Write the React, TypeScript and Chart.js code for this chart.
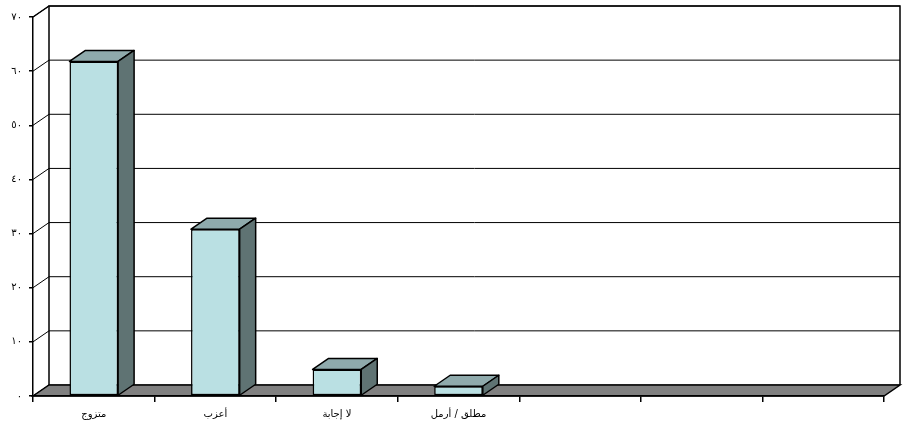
import React, { useEffect, useRef } from "react";
import { Chart, registerables } from "chart.js";

Chart.register(...registerables);

// Marital status distribution (percent)
const categories = ["متزوج", "أعزب", "لا إجابة", "مطلق / أرمل", "", "", ""];
const values: (number | null)[] = [61.8, 30.8, 4.9, 1.8, null, null, null];
const yTickValues = [0, 10, 20, 30, 40, 50, 60, 70];
const yTickLabels = ["٠", "١٠", "٢٠", "٣٠", "٤٠", "٥٠", "٦٠", "٧٠"];

// 3D look: offset of the back plane relative to the front plane
const DX = 16;
const DY = -11;

const FRONT = "#bae0e3";
const SIDE = "#5f7373";
const TOP = "#8faaac";
const FLOOR = "#808080";
const FONT = "'DejaVu Sans', sans-serif";

const frame3d = {
  id: "frame3d",
  beforeDraw(chart: any) {
    const { ctx, chartArea: a, scales } = chart;
    const ys = scales.y;
    ctx.save();
    ctx.strokeStyle = "#000";
    ctx.lineWidth = 1;
    // back wall gridlines + left wall diagonals
    yTickValues.forEach((v) => {
      const py = ys.getPixelForValue(v);
      ctx.beginPath();
      ctx.moveTo(a.left + DX, py + DY);
      ctx.lineTo(a.right + DX, py + DY);
      ctx.stroke();
      ctx.beginPath();
      ctx.moveTo(a.left, py);
      ctx.lineTo(a.left + DX, py + DY);
      ctx.stroke();
    });
    // back wall outline
    ctx.lineWidth = 1.5;
    ctx.beginPath();
    ctx.moveTo(a.left + DX, a.bottom + DY);
    ctx.lineTo(a.left + DX, a.top + DY);
    ctx.lineTo(a.right + DX, a.top + DY);
    ctx.lineTo(a.right + DX, a.bottom + DY);
    ctx.stroke();
    ctx.beginPath();
    ctx.moveTo(a.left, a.top);
    ctx.lineTo(a.left + DX, a.top + DY);
    ctx.stroke();
    // floor
    ctx.beginPath();
    ctx.moveTo(a.left, a.bottom);
    ctx.lineTo(a.right, a.bottom);
    ctx.lineTo(a.right + DX, a.bottom + DY);
    ctx.lineTo(a.left + DX, a.bottom + DY);
    ctx.closePath();
    ctx.fillStyle = FLOOR;
    ctx.fill();
    ctx.stroke();
    ctx.restore();
  },
  afterDatasetsDraw(chart: any) {
    const { ctx } = chart;
    const meta = chart.getDatasetMeta(0);
    ctx.save();
    ctx.strokeStyle = "#000";
    ctx.lineWidth = 1.5;
    ctx.lineJoin = "round";
    meta.data.forEach((bar: any, i: number) => {
      if (values[i] == null) return;
      const { x, y, base, width } = bar.getProps(["x", "y", "base", "width"], true);
      const l = x - width / 2;
      const r = x + width / 2;
      // top face
      ctx.beginPath();
      ctx.moveTo(l, y);
      ctx.lineTo(r, y);
      ctx.lineTo(r + DX, y + DY);
      ctx.lineTo(l + DX, y + DY);
      ctx.closePath();
      ctx.fillStyle = TOP;
      ctx.fill();
      ctx.stroke();
      // side face
      ctx.beginPath();
      ctx.moveTo(r, y);
      ctx.lineTo(r, base);
      ctx.lineTo(r + DX, base + DY);
      ctx.lineTo(r + DX, y + DY);
      ctx.closePath();
      ctx.fillStyle = SIDE;
      ctx.fill();
      ctx.stroke();
    });
    ctx.restore();
  },
};

export default function App() {
  const ref = useRef<HTMLCanvasElement | null>(null);

  useEffect(() => {
    if (!ref.current) return;
    const chart = new Chart(ref.current, {
      type: "bar",
      data: {
        labels: categories,
        datasets: [
          {
            data: values,
            backgroundColor: FRONT,
            borderColor: "#000",
            borderWidth: 1.5,
            borderSkipped: false,
            barPercentage: 0.4,
            categoryPercentage: 1,
          },
        ],
      },
      options: {
        animation: false,
        responsive: true,
        maintainAspectRatio: false,
        layout: { padding: { top: 17, right: 19, left: 0, bottom: 0 } },
        plugins: { legend: { display: false }, tooltip: { enabled: false } },
        scales: {
          x: {
            afterFit: (s: any) => {
              s.height = 30;
            },
            grid: {
              display: true,
              drawOnChartArea: false,
              drawTicks: true,
              tickLength: 6,
              offset: true,
              color: "#000",
              lineWidth: 1.5,
            },
            border: { display: true, color: "#000", width: 1.5 },
            ticks: {
              color: "#000",
              font: { family: FONT, size: 10 },
              padding: 6,
              maxRotation: 0,
              autoSkip: false,
            },
          },
          y: {
            min: 0,
            max: 70,
            afterFit: (s: any) => {
              s.width = 33;
            },
            grid: {
              display: true,
              drawOnChartArea: false,
              drawTicks: true,
              tickLength: 4,
              color: "#000",
              lineWidth: 1.5,
            },
            border: { display: true, color: "#000", width: 1.5 },
            ticks: {
              stepSize: 10,
              color: "#000",
              padding: 7,
              font: { family: FONT, size: 10 },
              callback: (v: any) => {
                const i = yTickValues.indexOf(Number(v));
                return i >= 0 ? yTickLabels[i] : "";
              },
            },
          },
        },
      },
      plugins: [frame3d],
    });
    return () => chart.destroy();
  }, []);

  return (
    <div style={{ position: "fixed", left: 0, top: 0, width: 903, height: 426, background: "#fff" }}>
      <canvas ref={ref} />
    </div>
  );
}
